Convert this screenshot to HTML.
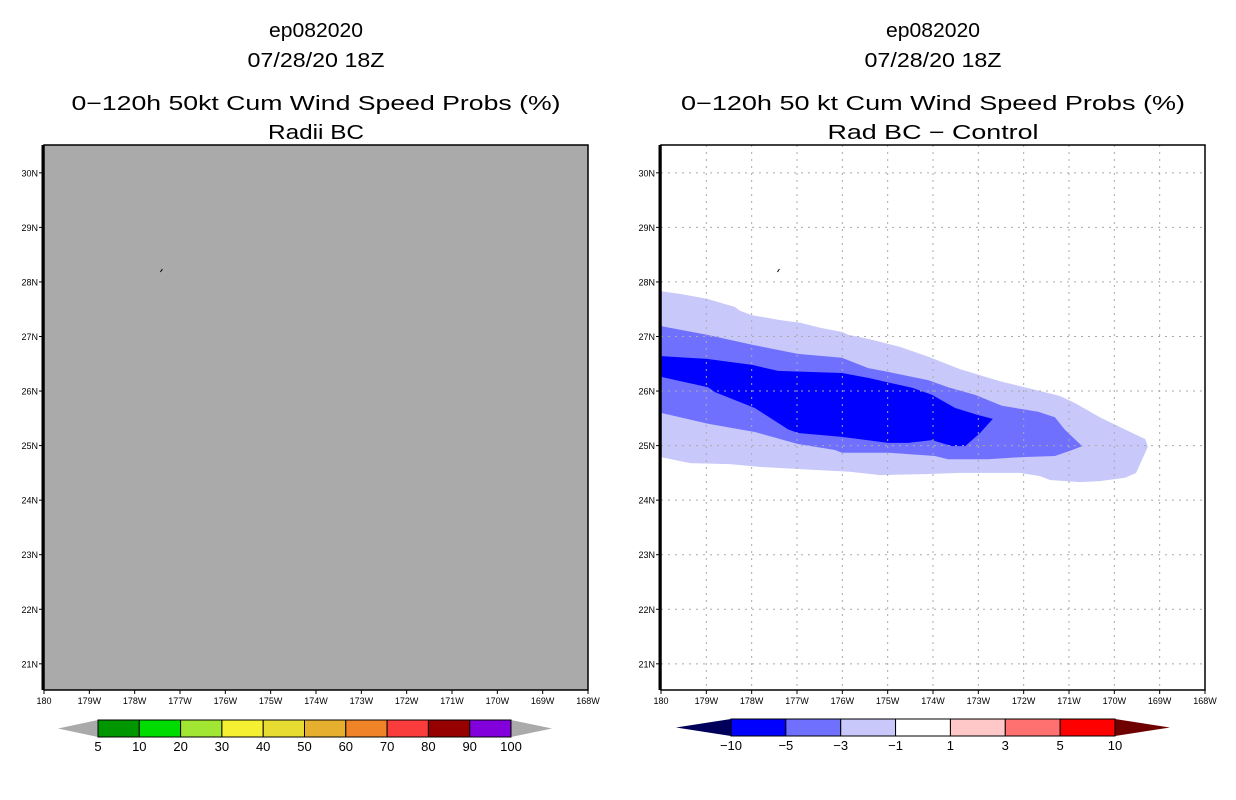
<!DOCTYPE html>
<html><head><meta charset="utf-8"><style>
html,body{margin:0;padding:0;background:#fff;width:1236px;height:800px;overflow:hidden}
svg text{font-family:"Liberation Sans",sans-serif;fill:#000}
</style></head><body>
<svg id="chart" width="1236" height="800" viewBox="0 0 1236 800" xmlns="http://www.w3.org/2000/svg"></svg>
<script>
// ---- data ----
const lonTicks = [0,1,2,3,4,5,6,7,8,9,10,11,12];
const lonLabels = ["180","179W","178W","177W","176W","175W","174W","173W","172W","171W","170W","169W","168W"];
const latTicks = [21,22,23,24,25,26,27,28,29,30];
const latLabels = ["21N","22N","23N","24N","25N","26N","27N","28N","29N","30N"];
const probLevels = ["5","10","20","30","40","50","60","70","80","90","100"];
const probColors = ["#009600","#00dc00","#a0e632","#f5f032","#e6dc32","#e6af2d","#f08228","#fa3c3c","#960000","#8200dc"];
const diffLevels = ["-10","-5","-3","-1","1","3","5","10"];
const diffColors = ["#0000ff","#7070ff","#c8c8fa","#ffffff","#ffc8c8","#ff7070","#ff0000"];
// contour polygons: [lon offset east of 180 (deg), lat]
const contourLight = [[0,27.83],[.42,27.78],[1.01,27.69],[1.63,27.54],[1.74,27.47],[2.01,27.39],[2.63,27.30],[3.07,27.25],[3.51,27.16],[4.01,27.08],[4.13,27.03],[4.61,26.95],[5.27,26.81],[5.93,26.62],[6.60,26.40],[7.48,26.18],[8.36,26.00],[8.80,25.91],[9.13,25.78],[9.68,25.52],[10.35,25.25],[10.68,25.12],[10.74,24.98],[10.48,24.50],[10.24,24.41],[9.68,24.35],[9.24,24.33],[8.58,24.37],[8.36,24.44],[7.92,24.50],[6.60,24.50],[5.93,24.48],[4.83,24.46],[4.17,24.52],[3.07,24.57],[2.18,24.61],[1.52,24.66],[.64,24.68],[0,24.79]];
const contourMid = [[0,27.19],[1.01,27.03],[2.01,26.85],[3.02,26.68],[3.99,26.61],[4.57,26.42],[5.01,26.35],[5.89,26.20],[6.33,26.07],[6.93,25.93],[7.52,25.73],[8.32,25.62],[8.69,25.52],[8.91,25.29],[9.29,24.99],[9.07,24.92],[8.69,24.81],[7.96,24.79],[7.21,24.75],[6.33,24.75],[6.04,24.81],[5.01,24.87],[3.99,24.87],[3.84,24.92],[3.02,25.03],[2.07,25.25],[1.04,25.40],[0,25.60]];
const contourDark = [[0,26.64],[1.01,26.59],[2.01,26.48],[2.58,26.37],[3.99,26.33],[4.57,26.24],[5.54,26.06],[5.98,25.93],[6.49,25.69],[6.99,25.56],[7.32,25.49],[7.04,25.23],[6.71,24.99],[6.42,24.99],[5.98,25.10],[5.45,25.05],[5.01,25.05],[3.99,25.16],[3.02,25.23],[2.80,25.30],[2.07,25.69],[1.19,25.98],[1.04,26.07],[0,26.26]];
const islandLoc = [2.59,28.21];

// ---- layout ----
const NS="http://www.w3.org/2000/svg";
const svg=document.getElementById('chart');
function mk(tag,attrs,parent){const e=document.createElementNS(NS,tag);for(const k in attrs)e.setAttribute(k,attrs[k]);(parent||svg).appendChild(e);return e;}
const PT=145,PB=690,LAT0=30.51,LAT1=20.52;
function yS(lat){return PT+(LAT0-lat)/(LAT0-LAT1)*(PB-PT);}
function panel(x0,titles,widths,pname){
  const x1=x0+544;
  const xS=d=>x0+d*(x1-x0)/12;
  const g=mk('g',{});
  
  
  const cx=(x0+x1)/2;
  const ys=[37,67,110,139];
  const nm=['storm-id','init-time','chart-title','chart-subtitle'];
  titles.forEach((t,i)=>{
    const tx=mk('text',{x:cx,y:ys[i],'text-anchor':'middle','font-size':20,textLength:widths[i],lengthAdjust:'spacingAndGlyphs'},g);
    tx.textContent=t;
    
    
  });
  return {g,xS,x0,x1};
}
function axes(p){
  const {g,xS,x0,x1}=p;
  mk('rect',{x:x0,y:PT,width:x1-x0,height:PB-PT,fill:'none',stroke:'#000','stroke-width':1.5},g);
  mk('line',{x1:x0-1,y1:PT,x2:x0-1,y2:PB,stroke:'#000','stroke-width':3},g);
  lonTicks.forEach((d,i)=>{
    const x=xS(d);
    mk('line',{x1:x,y1:PB,x2:x,y2:PB+4,stroke:'#000'},g);
    const t=mk('text',{x:x,y:704,'text-anchor':'middle','font-size':9},g);
    t.textContent=lonLabels[i];
    
    
  });
  latTicks.forEach((lat,i)=>{
    const y=yS(lat);
    mk('line',{x1:x0-5,y1:y,x2:x0,y2:y,stroke:'#000'},g);
    const t=mk('text',{x:x0-6,y:y+3.5,'text-anchor':'end','font-size':9},g);
    t.textContent=latLabels[i];
    
    
  });
  const il=mk('line',{x1:xS(islandLoc[0])-1,y1:yS(islandLoc[1])+1.5,x2:xS(islandLoc[0])+1,y2:yS(islandLoc[1])-1.5,stroke:'#000','stroke-width':1},g);
  
  
}
function colorbar(x0,x1,y0,y1,tl,tr,colors,labels,leftCol,rightCol,name){
  const g=mk('g',{});
  
  
  const ym=(y0+y1)/2;
  mk('polygon',{points:`${tl},${ym} ${x0},${y0} ${x0},${y1}`,fill:leftCol},g);
  mk('polygon',{points:`${x1},${y0} ${tr},${ym} ${x1},${y1}`,fill:rightCol},g);
  const w=(x1-x0)/colors.length;
  colors.forEach((c,i)=>{
    const r=mk('rect',{x:x0+i*w,y:y0,width:w,height:y1-y0,fill:c,stroke:'#000','stroke-width':1},g);
    
    
  });
  labels.forEach((l,i)=>{
    const t=mk('text',{x:x0+i*w,y:y1+14,'text-anchor':'middle','font-size':13},g);
    t.textContent=l.replace('-','\u2212');
    
    
  });
}
// left panel
const L=panel(44,["ep082020","07/28/20 18Z","0\u2212120h 50kt Cum Wind Speed Probs (%)","Radii BC"],[94,137,489,96],'left-panel');
const bg=mk('rect',{x:44,y:PT,width:544,height:PB-PT,fill:'#aaaaaa'},L.g);


axes(L);
colorbar(98,511,720,737,58,552,probColors,probLevels,'#aaaaaa','#aaaaaa','prob-colorbar');
// right panel
const R=panel(661,["ep082020","07/28/20 18Z","0\u2212120h 50 kt Cum Wind Speed Probs (%)","Rad BC \u2212 Control"],[94,137,504,211],'right-panel');
function poly(arr,fill,name){
  const pts=arr.map(p=>R.xS(p[0]).toFixed(1)+','+yS(p[1]).toFixed(1)).join(' ');
  const e=mk('polygon',{points:pts,fill:fill},R.g);
  
  
}
poly(contourLight,'#c8c8fa','contour-minus1');
poly(contourMid,'#7070ff','contour-minus3');
poly(contourDark,'#0000ff','contour-minus5');
lonTicks.slice(1,12).forEach(d=>{
  const gl=mk('line',{x1:R.xS(d),y1:PT,x2:R.xS(d),y2:PB,stroke:'#aaaaaa','stroke-dasharray':'2,5'},R.g);
  
  
});
latTicks.forEach(lat=>{
  const gl=mk('line',{x1:661,y1:yS(lat),x2:1205,y2:yS(lat),stroke:'#aaaaaa','stroke-dasharray':'2,5'},R.g);
  
  
});
axes(R);
colorbar(731,1115,719,736,676,1170,diffColors,diffLevels,'#00005a','#6e0000','diff-colorbar');
</script>
</body></html>
